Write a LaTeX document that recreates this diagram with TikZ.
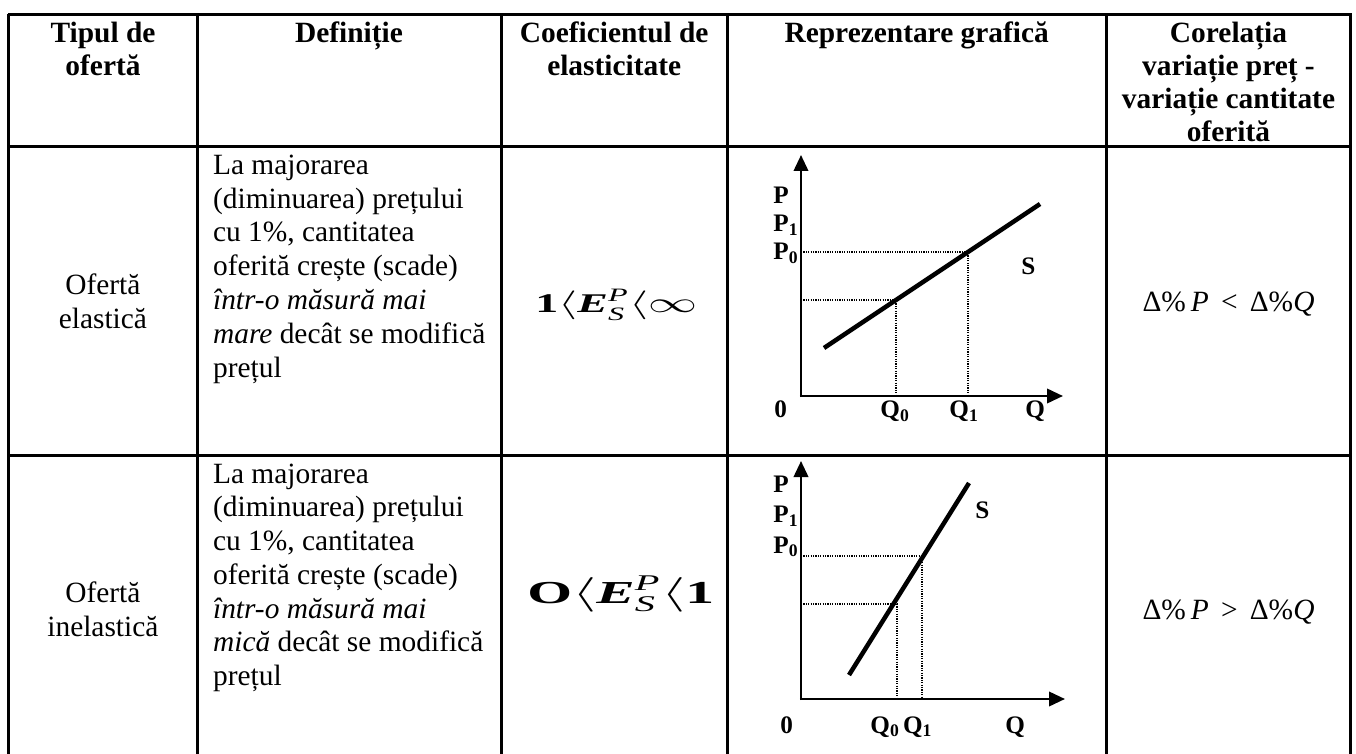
\documentclass[tikz,border=0pt]{standalone}
\usepackage{amsmath}
\usepackage{graphicx}
\usepackage{fontspec}
\setmainfont{Liberation Serif}
\usetikzlibrary{arrows.meta}
\newcommand\cellc[1]{\vtop{\halign{\hfil##\hfil\cr#1\crcr}}}
\newcommand\celll[1]{\vtop{\halign{##\hfil\cr#1\crcr}}}
\begin{document}
\begin{tikzpicture}[x=0.5pt,y=-0.5pt,
  grid/.style={line width=1.5pt},
  head/.style={font=\fontsize{14.7}{16.5}\selectfont\bfseries, inner sep=0pt, anchor=base},
  body/.style={font=\fontsize{14.7}{16.9}\selectfont, inner sep=0pt},
  coef/.style={inner sep=0pt, anchor=base west},
  axis/.style={line width=1.25pt, -{Triangle[length=8pt,width=7.2pt]}},
  supply/.style={line width=2.25pt},
  guide/.style={line width=0.6pt, dash pattern=on 0.6pt off 0.6pt},
  glab/.style={font=\fontsize{12.6}{14}\selectfont\bfseries, inner sep=0pt, anchor=base west},
]
\useasboundingbox (0,0) rectangle (1356,754);
\fill[white] (0,0) rectangle (1356,754);

% table grid
\draw[grid] (7.95,14.5) -- (1351.55,14.5);
\draw[grid] (8.7,147) -- (1350.8,147);
\draw[grid] (8.7,455.8) -- (1350.8,455.8);
\foreach \xx in {8.7,197,501,727.5,1106.3,1350.8}
  \draw[grid] (\xx,13.75) -- (\xx,760);

% header
\node[head] (h1) at (103,43) {\cellc{Tipul de\cr ofertă}};
\node[head] (h2) at (349,43) {Definiție};
\node[head] (h3) at (614.2,43) {\cellc{Coeficientul de\cr elasticitate}};
\node[head] (h4) at (916.7,43) {Reprezentare grafică};
\node[head] (h5) at (1228.5,43) {\cellc{Corelația\cr variație preț -\cr variație cantitate\cr oferită}};

% row 1
\node[body, anchor=base] (t1) at (102.9,294.3) {\cellc{Ofertă\cr elastică}};
\node[body, anchor=base west] (d1) at (212.7,174.3) {\celll{La majorarea\cr (diminuarea) prețului\cr cu 1\%, cantitatea\cr oferită crește (scade)\cr \textit{într-o măsură mai}\cr \textit{mare} decât se modifică\cr prețul}};
\node[coef] (k1) at (535,313) {\scalebox{1.7}[1]{\fontsize{13.5}{16}\selectfont\bfseries 1$\langle\textit{E}^{\textit{\mdseries P}}_{\textit{\mdseries S}}\langle\infty$}};
\node[body, anchor=base] (r1) at (1228.5,312) {Δ\%\,\textit{P}\, < \,Δ\%\textit{Q}};

% row 2
\node[body, anchor=base] (t2) at (102.9,602.5) {\cellc{Ofertă\cr inelastică}};
\node[body, anchor=base west] (d2) at (212.7,483) {\celll{La majorarea\cr (diminuarea) prețului\cr cu 1\%, cantitatea\cr oferită crește (scade)\cr \textit{într-o măsură mai}\cr \textit{mică} decât se modifică\cr prețul}};
\node[coef] (k2) at (527,603) {\scalebox{1.8}[1]{\fontsize{16}{18}\selectfont\bfseries O$\langle\textit{E}^{\textit{\mdseries P}}_{\textit{\mdseries S}}\langle$1}};
\node[body, anchor=base] (r2) at (1228.5,619) {Δ\%\,\textit{P}\, > \,Δ\%\textit{Q}};

% graph 1 (elastic)
\coordinate (o1) at (801,396);
\coordinate (ya1) at (801,155);
\coordinate (xa1) at (1063,396);
\coordinate (sa1) at (824,348);
\coordinate (sb1) at (1040,204);
\coordinate (ga1) at (896,300);
\coordinate (gb1) at (968,252);
\draw[guide] (801,300) -- (ga1) -- (896,396);
\draw[guide] (801,252) -- (gb1) -- (968,396);
\draw[axis] (801,397.2) -- (ya1);
\draw[axis] (799.8,396) -- (xa1);
\draw[supply] (sa1) -- (sb1);
\node[glab] (p1) at (773,204) {P};
\node[glab] (p11) at (773,232) {P\textsubscript{1}};
\node[glab] (p01) at (773,260) {P\textsubscript{0}};
\node[glab] (s1) at (1021,275) {S};
\node[glab] (z1) at (774,417.7) {0};
\node[glab] (q01) at (880,418) {Q\textsubscript{0}};
\node[glab] (q11) at (949,418) {Q\textsubscript{1}};
\node[glab] (q1) at (1025,418) {Q};

% graph 2 (inelastic)
\coordinate (o2) at (801,699);
\coordinate (ya2) at (801,461);
\coordinate (xa2) at (1065,699);
\coordinate (sa2) at (849,675);
\coordinate (sb2) at (969,483);
\coordinate (ga2) at (897,604);
\coordinate (gb2) at (922,556);
\draw[guide] (801,604) -- (ga2) -- (897,699);
\draw[guide] (801,556) -- (gb2) -- (922,699);
\draw[axis] (801,700.2) -- (ya2);
\draw[axis] (799.8,699) -- (xa2);
\draw[supply] (sa2) -- (sb2);
\node[glab] (p2) at (773,493) {P};
\node[glab] (p12) at (773,523) {P\textsubscript{1}};
\node[glab] (p02) at (773,553) {P\textsubscript{0}};
\node[glab] (s2) at (975,518) {S};
\node[glab] (z2) at (780,733) {0};
\node[glab] (q02) at (870,733) {Q\textsubscript{0}};
\node[glab] (q12) at (902.7,733) {Q\textsubscript{1}};
\node[glab] (q2) at (1005,733) {Q};
\end{tikzpicture}
\end{document}
